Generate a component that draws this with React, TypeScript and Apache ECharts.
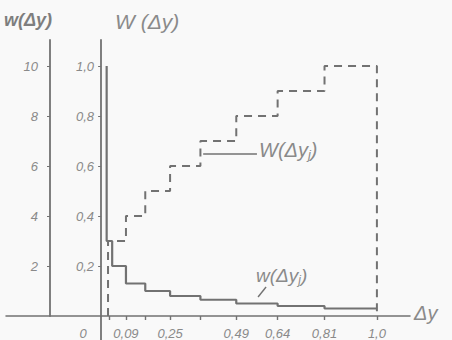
import React, { useEffect, useRef } from 'react';
import * as echarts from 'echarts';

// x-axis (Δy) tick labels and marks
const xLabelValues = [0, 0.09, 0.25, 0.49, 0.64, 0.81, 1.0];
const xLabelTexts = ['0', '0,09', '0,25', '0,49', '0,64', '0,81', '1,0'];
const xTickValues = [0.03, 0.09, 0.16, 0.25, 0.36, 0.49, 0.64, 0.81, 1.0];

// left axis w(Δy) ticks
const wTickValues = [2, 4, 6, 8, 10];
const wTickTexts = ['2', '4', '6', '8', '10'];
// second axis W(Δy) ticks
const WTickValues = [0.2, 0.4, 0.6, 0.8, 1.0];
const WTickTexts = ['0,2', '0,4', '0,6', '0,8', '1,0'];

// density w(Δy): step histogram
const wBreaks = [0.02, 0.04, 0.09, 0.16, 0.25, 0.36, 0.49, 0.64, 0.81, 1.0];
const wPeak = 10;
const wValues = [3.0, 2.0, 1.3, 1.0, 0.8, 0.65, 0.5, 0.4, 0.3];

// distribution W(Δy): cumulative steps
const WBreaks = [0.025, 0.09, 0.16, 0.25, 0.36, 0.49, 0.64, 0.81, 1.0];
const WValues = [0.3, 0.4, 0.5, 0.6, 0.7, 0.8, 0.9, 1.0];

const LINE = '#727272';
const TEXT = '#8a8a8a';
const FONT = '"Liberation Sans", "DejaVu Sans", sans-serif';

export default function App() {
  const ref = useRef<HTMLDivElement>(null);

  useEffect(() => {
    const chart = echarts.init(ref.current!, null, { renderer: 'svg' });

    const wData: number[][] = [[wBreaks[0], wPeak]];
    wValues.forEach((v, i) => wData.push([wBreaks[i], v]));
    wData.push([wBreaks[wBreaks.length - 1], wValues[wValues.length - 1]]);

    const WData: number[][] = [[WBreaks[0], 0]];
    WValues.forEach((v, i) => WData.push([WBreaks[i], v]));
    WData.push([WBreaks[WBreaks.length - 1], WValues[WValues.length - 1]]);
    WData.push([WBreaks[WBreaks.length - 1], 0]);

    const labelStyle = {
      color: TEXT,
      fontStyle: 'italic',
      fontFamily: FONT,
      fontSize: 12,
    };

    const option: any = {
      animation: false,
      backgroundColor: '#f9f9f9',
      grid: {
        left: 6,
        right: 42,
        top: 40,
        bottom: 24,
        containLabel: false,
        outerBoundsMode: 'none',
      },
      xAxis: {
        type: 'value',
        min: -0.345,
        max: 1.12,
        splitLine: { show: false },
        axisLine: { show: true, onZero: false, lineStyle: { color: LINE, width: 1.5 } },
        axisTick: {
          show: true,
          customValues: xTickValues,
          length: 4,
          lineStyle: { color: LINE, width: 1.4 },
        },
        axisLabel: {
          ...labelStyle,
          fontSize: 13,
          margin: 11,
          customValues: xLabelValues,
          formatter: (v: number) => {
            const i = xLabelValues.findIndex((x) => Math.abs(x - v) < 1e-6);
            const t = i >= 0 ? xLabelTexts[i] : '';
            return v === 0 ? '{z|' + t + '}' : t;
          },
          rich: {
            z: { ...labelStyle, fontSize: 13, padding: [0, 36, 0, 0] },
          },
        },
      },
      yAxis: [
        {
          type: 'value',
          min: 0,
          max: 1.104,
          position: 'left',
          offset: -95.1,
          splitLine: { show: false },
          axisLine: { show: true, onZero: false, lineStyle: { color: LINE, width: 1.8 } },
          axisTick: {
            show: true,
            customValues: WTickValues,
            length: 3,
            lineStyle: { color: LINE },
          },
          axisLabel: {
            ...labelStyle,
            fontSize: 13,
            margin: 7,
            customValues: WTickValues,
            formatter: (v: number) => {
              const i = WTickValues.findIndex((x) => Math.abs(x - v) < 1e-6);
              return i >= 0 ? WTickTexts[i] : '';
            },
          },
        },
        {
          type: 'value',
          min: 0,
          max: 11.04,
          position: 'left',
          offset: -44,
          splitLine: { show: false },
          axisLine: { show: true, onZero: false, lineStyle: { color: LINE, width: 1.8 } },
          axisTick: {
            show: true,
            customValues: wTickValues,
            length: 3,
            lineStyle: { color: LINE },
          },
          axisLabel: {
            ...labelStyle,
            fontSize: 13,
            margin: 12,
            customValues: wTickValues,
            formatter: (v: number) => {
              const i = wTickValues.findIndex((x) => Math.abs(x - v) < 1e-6);
              return i >= 0 ? wTickTexts[i] : '';
            },
          },
        },
      ],
      series: [
        {
          name: 'W(Δy)',
          type: 'line',
          yAxisIndex: 0,
          step: 'end',
          data: WData,
          symbol: 'none',
          lineStyle: { color: LINE, width: 2, type: [8, 6] },
          markLine: {
            silent: true,
            symbol: 'none',
            label: { show: false },
            lineStyle: { color: LINE, width: 1.6, type: 'solid' },
            data: [[{ coord: [0.37, 0.65] }, { coord: [0.565, 0.65] }]],
          },
        },
        {
          name: 'w(Δy)',
          type: 'line',
          yAxisIndex: 1,
          step: 'end',
          data: wData,
          symbol: 'none',
          lineStyle: { color: LINE, width: 2.2 },
          markLine: {
            silent: true,
            symbol: 'none',
            label: { show: false },
            lineStyle: { color: LINE, width: 1.4, type: 'solid' },
            data: [[{ coord: [0.569, 0.76] }, { coord: [0.598, 1.16] }]],
          },
        },
      ],
      graphic: [
        {
          type: 'line',
          shape: { x1: 101, y1: 316, x2: 101, y2: 340 },
          style: { stroke: LINE, lineWidth: 1.8 },
        },
        {
          type: 'text',
          left: 4,
          top: 11,
          style: { text: 'w(Δy)', fill: '#7e7e7e', font: 'italic bold 18px ' + FONT },
        },
        {
          type: 'text',
          left: 115,
          top: 11,
          style: { text: 'W (Δy)', fill: TEXT, font: 'italic 21px ' + FONT },
        },
        {
          type: 'text',
          left: 414,
          top: 303,
          style: { text: 'Δy', fill: TEXT, font: 'italic 20px ' + FONT },
        },
        {
          type: 'text',
          left: 259,
          top: 140,
          style: {
            text: 'W(Δy{s|j})',
            fill: TEXT,
            font: 'italic 20px ' + FONT,
            rich: { s: { fontSize: 13, fill: TEXT, fontStyle: 'italic', padding: [8, 0, 0, 0] } },
          },
        },
        {
          type: 'text',
          left: 256,
          top: 266,
          style: {
            text: 'w(Δy{s|j})',
            fill: TEXT,
            font: 'italic 19px ' + FONT,
            rich: { s: { fontSize: 12, fill: TEXT, fontStyle: 'italic', padding: [8, 0, 0, 0] } },
          },
        },
      ],
    };

    chart.setOption(option);
    return () => chart.dispose();
  }, []);

  return (
    <div
      ref={ref}
      style={{ position: 'absolute', left: 0, top: 0, width: 452, height: 340, background: '#f9f9f9' }}
    />
  );
}
